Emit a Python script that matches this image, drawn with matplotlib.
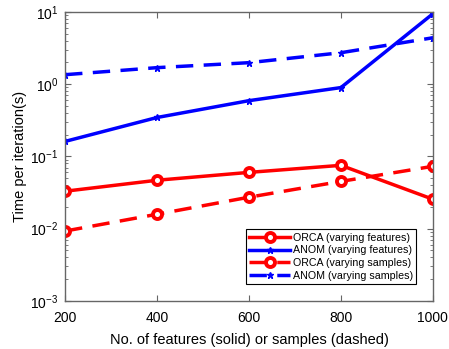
import matplotlib
matplotlib.use("Agg")
import matplotlib.pyplot as plt
from matplotlib.ticker import LogLocator

x = [200, 400, 600, 800, 1000]
orca_features = [0.0329, 0.0467, 0.060, 0.0751, 0.0255]
anom_features = [0.161, 0.345, 0.59, 0.895, 9.4]
orca_samples = [0.00925, 0.0158, 0.0272, 0.045, 0.0728]
anom_samples = [1.35, 1.69, 1.98, 2.72, 4.38]
labels = ["ORCA (varying features)", "ANOM (varying features)",
          "ORCA (varying samples)", "ANOM (varying samples)"]

plt.rcParams['font.family'] = ['Liberation Sans', 'DejaVu Sans']
fig = plt.figure(figsize=(4.49, 3.49), dpi=100)
ax = fig.add_axes([0.145, 0.138, 0.819, 0.828])

red = '#ff0000'
blue = '#0000ff'
ax.plot(x, orca_features, '-', color=red, lw=2.5, marker='o', ms=6.5,
        mfc='white', mec=red, mew=2.8, label=labels[0])
ax.plot(x, anom_features, '-', color=blue, lw=2.5, marker='*', ms=5,
        mfc=blue, mec=blue, label=labels[1])
ax.plot(x, orca_samples, '--', color=red, lw=2.5, marker='o', ms=6.5,
        mfc='white', mec=red, mew=2.8, dashes=(5, 3), label=labels[2])
ax.plot(x, anom_samples, '--', color=blue, lw=2.5, marker='*', ms=5,
        mfc=blue, mec=blue, dashes=(5, 3), label=labels[3])

ax.set_yscale('log')
ax.set_xlim(200, 1000)
ax.set_ylim(1e-3, 1e1)
ax.set_xticks([200, 400, 600, 800, 1000])
ax.yaxis.set_major_locator(LogLocator(base=10, numticks=10))
ax.yaxis.set_minor_locator(LogLocator(base=10, subs=range(2, 10), numticks=20))
ax.tick_params(which='both', direction='in', top=True, right=True,
               color='#666666', labelsize=10)
ax.tick_params(axis='x', pad=7)
ax.tick_params(axis='y', pad=5)
ax.tick_params(which='major', length=4)
ax.tick_params(which='minor', length=2)
for s in ax.spines.values():
    s.set_color('#666666')
    s.set_linewidth(1)

ax.set_xlabel('No. of features (solid) or samples (dashed)', fontsize=10.5,
              labelpad=6)
ax.set_ylabel('Time per iteration(s)', fontsize=10.5, labelpad=2)

leg = ax.legend(loc='lower right', fontsize=7.7, handlelength=3.8,
                fancybox=False, framealpha=1, edgecolor='black',
                borderpad=0.3, labelspacing=0.25, handletextpad=0.3,
                bbox_to_anchor=(0.97, 0.04))
leg.get_frame().set_linewidth(0.8)

fig.savefig('out.png', dpi=100)
